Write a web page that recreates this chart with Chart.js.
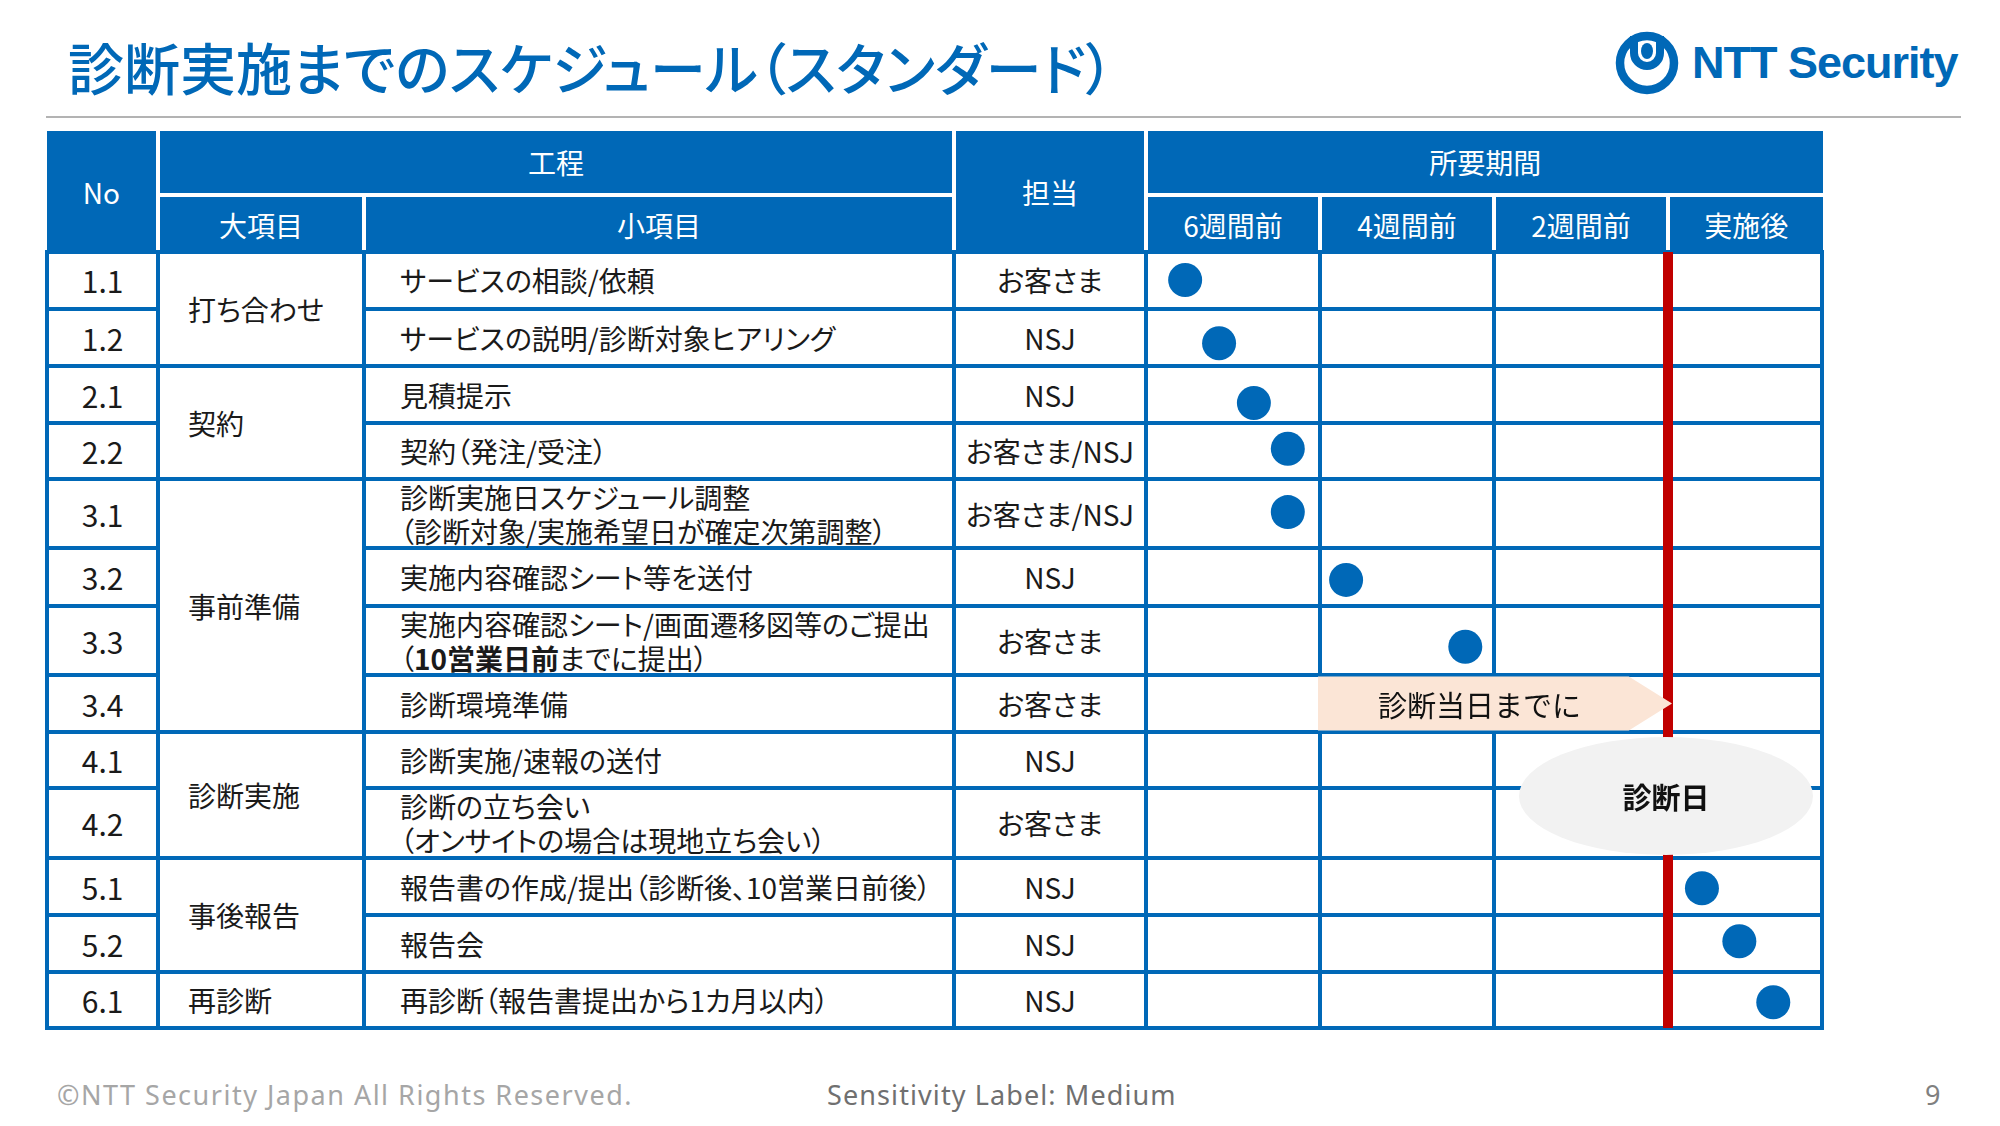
<!DOCTYPE html>
<html lang="ja">
<head>
<meta charset="utf-8">
<title>診断実施までのスケジュール（スタンダード）</title>
<script src="https://cdn.jsdelivr.net/npm/chart.js@4.4.1/dist/chart.umd.min.js"></script>
<style>
    html, body { margin: 0; padding: 0; background: #fff; }
    #page { position: relative; width: 2000px; height: 1126px; overflow: hidden; background: #fff;
        font-family: "Noto Sans CJK JP", "Noto Sans", sans-serif; color: #1a1a1a; }
    .abs { position: absolute; box-sizing: border-box; }
    .cell { position: absolute; display: flex; align-items: center; box-sizing: border-box;
        font-size: 28px; line-height: 34px; font-feature-settings: "palt"; white-space: nowrap; }
    .entete { background: #0068b7; color: #fff; justify-content: center; font-size: 28px; }
    .corps { background: #fff; }
    .centre { justify-content: center; text-align: center; }
    .gauche { justify-content: flex-start; }
    #titre { left: 68px; top: 30px; font-size: 56px; line-height: 72px; color: #0068b7; font-weight: 500;
        font-feature-settings: "palt"; white-space: nowrap; }
    #filet { left: 46px; top: 116px; width: 1915px; height: 2px; background: #b3b3b3; }
    #logo_texte { left: 1692px; top: 28px; font-family: "Liberation Sans", Arial, sans-serif; font-weight: bold;
        font-size: 45px; line-height: 70px; color: #0068b7; letter-spacing: -1px; white-space: nowrap; }
    #fond_corps { background: #0068b7; }
    #canvas_calendrier { position: absolute; }
    .pied { font-family: "Noto Sans", sans-serif; font-size: 27px; line-height: 32px; white-space: nowrap; }
</style>
</head>
<body>
<div id="page">
    <div id="titre" class="abs">診断実施までのスケジュール（スタンダード）</div>
    <svg class="abs" style="left:1600px;top:20px" width="100" height="90" viewBox="0 0 100 90">
        <circle cx="47" cy="43" r="27" fill="none" stroke="#0068b7" stroke-width="8.5"></circle>
        <path d="M 34 16 L 34 33 A 13 13 0 0 0 60 33 L 60 16" fill="none" stroke="#0068b7" stroke-width="8"></path>
        <ellipse cx="47" cy="31" rx="6" ry="8" fill="#0068b7"></ellipse>
    </svg>
    <div id="logo_texte" class="abs">NTT Security</div>
    <div id="filet" class="abs"></div>
    <div id="tableau"></div>
    <canvas id="canvas_calendrier"></canvas>
    <div class="abs pied" style="left:57px;top:1079px;color:#a6a6a6;letter-spacing:1.5px">©NTT Security Japan All Rights Reserved.</div>
    <div class="abs pied" style="left:827px;top:1079px;color:#707070;letter-spacing:1.1px">Sensitivity Label: Medium</div>
    <div class="abs pied" style="left:1925px;top:1079px;color:#808080">9</div>
</div>
<script>
// données du tableau
const numeros = ['1.1', '1.2', '2.1', '2.2', '3.1', '3.2', '3.3', '3.4', '4.1', '4.2', '5.1', '5.2', '6.1'];
const grands_items = ['打ち合わせ', '契約', '事前準備', '診断実施', '事後報告', '再診断'];
const grands_items_lignes = [2, 2, 4, 2, 2, 1];
const petits_items = [
    'サービスの相談/依頼',
    'サービスの説明/診断対象ヒアリング',
    '見積提示',
    '契約（発注/受注）',
    '診断実施日スケジュール調整<br>（診断対象/実施希望日が確定次第調整）',
    '実施内容確認シート等を送付',
    '実施内容確認シート/画面遷移図等のご提出<br>（<b>10営業日前</b>までに提出）',
    '診断環境準備',
    '診断実施/速報の送付',
    '診断の立ち会い<br>（オンサイトの場合は現地立ち会い）',
    '報告書の作成/提出（診断後、10営業日前後）',
    '報告会',
    '再診断（報告書提出から1カ月以内）'
];
const responsables = ['お客さま', 'NSJ', 'NSJ', 'お客さま/NSJ', 'お客さま/NSJ', 'NSJ', 'お客さま', 'お客さま', 'NSJ', 'お客さま', 'NSJ', 'NSJ', 'NSJ'];
const periodes = ['6週間前', '4週間前', '2週間前', '実施後'];

// points du calendrier (semaines par rapport au jour du diagnostic, position dans la ligne)
const points_numeros = ['1.1', '1.2', '2.1', '2.2', '3.1', '3.2', '3.3', '5.1', '5.2', '6.1'];
const points_semaines = [-5.55, -5.16, -4.76, -4.37, -4.37, -3.70, -2.33, 0.39, 0.82, 1.21];
const points_dans_ligne = [0.49, 0.60, 0.65, 0.46, 0.48, 0.55, 0.59, 0.53, 0.46, 0.54];
const jour_diagnostic = 0;
const fleche_texte = '診断当日までに';
const fleche_numero = '3.4';
const fleche_debut = -4;
const fleche_fin = 0;
const ellipse_texte = '診断日';
const ellipse_numeros = ['4.1', '4.2'];

// mise en page
const colonnes_x = [47, 158, 364, 954, 1146, 1320, 1494, 1668, 1822];
const lignes_h = [57, 57, 57, 56, 69, 58, 69, 57, 56, 70, 57, 57, 56];
const haut_entete = 131, milieu_entete = 195, haut_corps = 252;
const bleu = '#0068b7';

function haut_ligne(index) {
    let total = 0;
    for (let count = 0; count < index; count++) total += lignes_h[count];
    return total;
}
const hauteur_corps = haut_ligne(lignes_h.length);

function ajouter_div(classes, x0, y0, x1, y1, html) {
    const div = document.createElement('div');
    div.className = classes;
    div.style.left = x0 + 'px';
    div.style.top = y0 + 'px';
    div.style.width = (x1 - x0) + 'px';
    div.style.height = (y1 - y0) + 'px';
    if (html !== undefined) div.innerHTML = html;
    document.getElementById('tableau').appendChild(div);
    return div;
}

function bord_gauche(i) { return i === 0 ? colonnes_x[0] + 2 : colonnes_x[i] + 1.75; }
function bord_droit(i) { return i === colonnes_x.length - 1 ? colonnes_x[i] - 2 : colonnes_x[i] - 1.75; }
function bord_haut(r) { return r === 0 ? haut_corps + 1.5 : haut_corps + haut_ligne(r) + 1.75; }
function bord_bas(r) { return r === lignes_h.length ? haut_corps + hauteur_corps - 2 : haut_corps + haut_ligne(r) - 1.75; }

function dessiner_entete() {
    const g = 2;
    ajouter_div('abs entete cell', colonnes_x[0] - 0.5, haut_entete, colonnes_x[1] - g, haut_corps, 'No');
    ajouter_div('abs entete cell', colonnes_x[1] + g, haut_entete, colonnes_x[3] - g, milieu_entete - g, '工程');
    ajouter_div('abs entete cell', colonnes_x[1] + g, milieu_entete + g, colonnes_x[2] - g, haut_corps, '大項目');
    ajouter_div('abs entete cell', colonnes_x[2] + g, milieu_entete + g, colonnes_x[3] - g, haut_corps, '小項目');
    ajouter_div('abs entete cell', colonnes_x[3] + g, haut_entete, colonnes_x[4] - g, haut_corps, '担当');
    ajouter_div('abs entete cell', colonnes_x[4] + g, haut_entete, colonnes_x[8] + 0.5, milieu_entete - g, '所要期間');
    for (let count = 0; count < periodes.length; count++) {
        const fin = count === periodes.length - 1 ? colonnes_x[8] + 0.5 : colonnes_x[5 + count] - g;
        ajouter_div('abs entete cell', colonnes_x[4 + count] + g, milieu_entete + g, fin, haut_corps, periodes[count]);
    }
}

function dessiner_corps() {
    const fond = ajouter_div('abs', colonnes_x[0] - 2, haut_corps - 2, colonnes_x[8] + 2, haut_corps + hauteur_corps + 2);
    fond.id = 'fond_corps';
    for (let r = 0; r < numeros.length; r++) {
        const y0 = bord_haut(r), y1 = bord_bas(r + 1);
        const no = ajouter_div('abs corps cell centre', bord_gauche(0), y0, bord_droit(1), y1, numeros[r]);
        no.style.fontSize = '30px';
        const petit = ajouter_div('abs corps cell gauche', bord_gauche(2), y0, bord_droit(3), y1, '<div>' + petits_items[r] + '</div>');
        petit.style.paddingLeft = (400 - bord_gauche(2)) + 'px';
        ajouter_div('abs corps cell centre', bord_gauche(3), y0, bord_droit(4), y1, responsables[r]);
        for (let c = 4; c < 8; c++) {
            ajouter_div('abs corps cell', bord_gauche(c), y0, bord_droit(c + 1), y1);
        }
    }
    let r = 0;
    for (let count = 0; count < grands_items.length; count++) {
        const fin = r + grands_items_lignes[count];
        const grand = ajouter_div('abs corps cell gauche', bord_gauche(1), bord_haut(r), bord_droit(2), bord_bas(fin), grands_items[count]);
        grand.style.paddingLeft = (188 - bord_gauche(1)) + 'px';
        r = fin;
    }
}

dessiner_entete();
dessiner_corps();

// calendrier : points, ligne du jour J, flèche et ellipse
const semaine_px = (colonnes_x[5] - colonnes_x[4]) / 2;
const canvas = document.getElementById('canvas_calendrier');
canvas.style.left = colonnes_x[4] + 'px';
canvas.style.top = haut_corps + 'px';
canvas.width = colonnes_x[8] - colonnes_x[4];
canvas.height = hauteur_corps;
canvas.style.width = canvas.width + 'px';
canvas.style.height = canvas.height + 'px';

let points = [];
for (let count = 0; count < points_numeros.length; count++) {
    const index = numeros.indexOf(points_numeros[count]);
    points.push({ x: points_semaines[count], y: haut_ligne(index) + lignes_h[index] * points_dans_ligne[count] });
}

const plugin_reperes = {
    id: 'reperes',
    afterDatasetsDraw(chart) {
        const ctx = chart.ctx, echelle_x = chart.scales.x, echelle_y = chart.scales.y;
        ctx.save();
        // flèche
        const rf = numeros.indexOf(fleche_numero);
        const fy0 = echelle_y.getPixelForValue(haut_ligne(rf) + 1.5);
        const fy1 = echelle_y.getPixelForValue(haut_ligne(rf + 1) - 1.5);
        const fx0 = echelle_x.getPixelForValue(fleche_debut) - 2;
        const pointe = echelle_x.getPixelForValue(fleche_fin) + 4;
        const epaule = pointe - (fy1 - fy0) * 0.8;
        ctx.beginPath();
        ctx.moveTo(fx0, fy0);
        ctx.lineTo(epaule, fy0);
        ctx.lineTo(pointe, (fy0 + fy1) / 2);
        ctx.lineTo(epaule, fy1);
        ctx.lineTo(fx0, fy1);
        ctx.closePath();
        ctx.fillStyle = '#fbe5d6';
        ctx.fill();
        ctx.fillStyle = '#111';
        ctx.font = '29px "Noto Sans CJK JP"';
        ctx.textAlign = 'center';
        ctx.textBaseline = 'middle';
        ctx.fillText(fleche_texte, (fx0 + epaule) / 2 + 6, (fy0 + fy1) / 2 + 2);
        // ellipse
        const r0 = numeros.indexOf(ellipse_numeros[0]);
        const r1 = numeros.indexOf(ellipse_numeros[ellipse_numeros.length - 1]) + 1;
        const ey0 = echelle_y.getPixelForValue(haut_ligne(r0));
        const ey1 = echelle_y.getPixelForValue(haut_ligne(r1));
        const ex = echelle_x.getPixelForValue(jour_diagnostic) - 2;
        const rx = echelle_x.getPixelForValue(1.69) - echelle_x.getPixelForValue(0);
        ctx.beginPath();
        ctx.ellipse(ex, (ey0 + ey1) / 2 + 1, rx, (ey1 - ey0) / 2 - 4, 0, 0, Math.PI * 2);
        ctx.fillStyle = '#f2f2f2';
        ctx.fill();
        ctx.fillStyle = '#111';
        ctx.font = 'bold 29px "Noto Sans CJK JP"';
        ctx.fillText(ellipse_texte, ex, (ey0 + ey1) / 2 + 3);
        ctx.restore();
    }
};

const graph = new Chart(canvas, {
    type: 'scatter',
    data: {
        datasets: [
            {
                label: '実施',
                data: points,
                backgroundColor: bleu,
                borderWidth: 0,
                pointRadius: 17,
                pointHoverRadius: 17
            },
            {
                type: 'line',
                label: '診断日',
                data: [{ x: jour_diagnostic, y: 0 }, { x: jour_diagnostic, y: hauteur_corps }],
                borderColor: '#c00000',
                borderWidth: 10,
                borderCapStyle: 'butt',
                pointRadius: 0
            }
        ]
    },
    options: {
        responsive: false,
        animation: false,
        devicePixelRatio: 1,
        layout: { padding: 0, autoPadding: false },
        plugins: {
            legend: { display: false },
            tooltip: { enabled: false }
        },
        scales: {
            x: {
                type: 'linear',
                display: false,
                min: -6,
                max: (colonnes_x[8] - colonnes_x[7]) / semaine_px
            },
            y: {
                type: 'linear',
                display: false,
                reverse: true,
                min: 0,
                max: hauteur_corps
            }
        }
    },
    plugins: [plugin_reperes]
});
</script>
</body>
</html>
